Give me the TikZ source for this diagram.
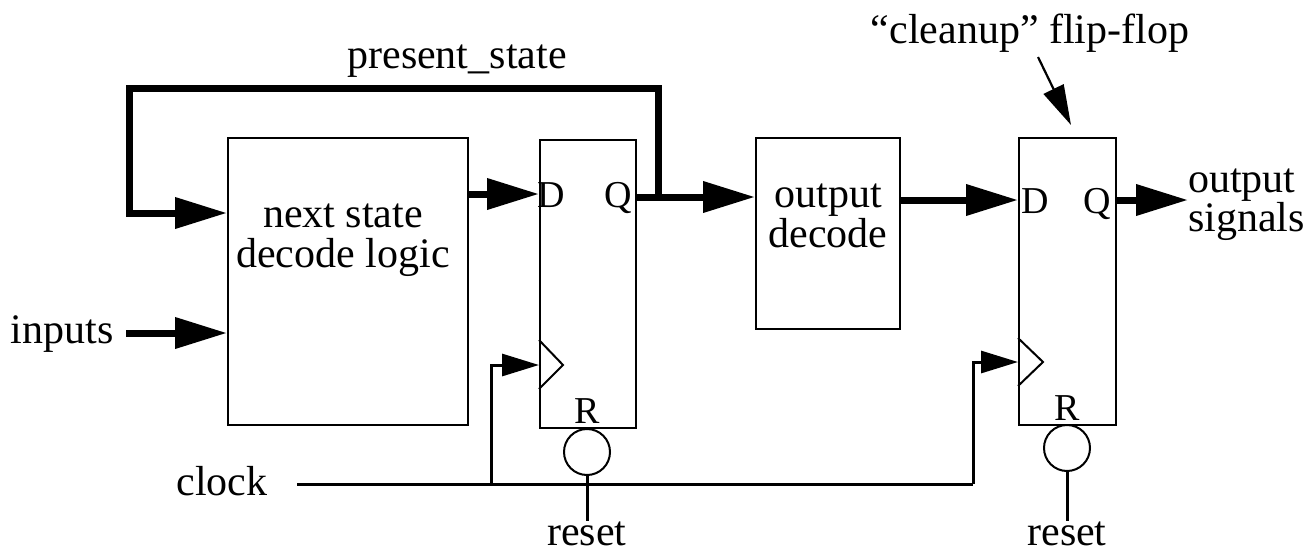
\documentclass[tikz,border=0pt]{standalone}
\usepackage{fontspec}
\setmainfont{Liberation Serif}
\usetikzlibrary{arrows.meta}
\begin{document}
\begin{tikzpicture}[x=1pt,y=-1pt,
  lbl/.style={font=\fontsize{42}{40}\selectfont, inner sep=0pt},
  pin/.style={font=\fontsize{38}{40}\selectfont, inner sep=0pt, anchor=base},
  box/.style={draw, line width=2pt, inner sep=0pt, anchor=north west},
  bus/.style={line width=7pt, line join=miter, -{Triangle[length=52pt,width=30pt]}},
  clkarrow/.style={line width=3pt, -{Triangle[length=37pt,width=22pt]}},
  clkline/.style={line width=3pt},
  thinline/.style={line width=2pt},
  bubble/.style={draw, circle, line width=2pt, minimum size=46pt, inner sep=0pt},
  pointer/.style={line width=2.2pt, -{Triangle[length=40pt,width=22pt]}}
]
\useasboundingbox (0,0) rectangle (1315,552);
\fill[white] (0,0) rectangle (1315,552);

% boxes
\node[box, minimum width=240pt, minimum height=287pt] (ns) at (227,137) {};
\node[box, minimum width=96pt, minimum height=288pt] (ff1) at (539,139) {};
\node[box, minimum width=144pt, minimum height=191pt] (od) at (755,137) {};
\node[box, minimum width=97pt, minimum height=287pt] (ff2) at (1018,137) {};

% box texts
\node[lbl, align=center] (nst) at (343,240.5) {next state\\decode logic};
\node[lbl, align=center] (odt) at (828,216) {output\\decode};

% pins
\node[pin] (D1) at (551,207) {D};
\node[pin] (Q1) at (618,207) {Q};
\node[pin] (R1) at (587,423) {R};
\node[pin] (D2) at (1035,213) {D};
\node[pin] (Q2) at (1097,213) {Q};
\node[pin] (R2) at (1067,420) {R};

% clock triangles
\draw[thinline] (539,340) -- (563,365) -- (539,389);
\draw[thinline] (1018,338) -- (1043,362) -- (1018,386);

% labels
\node[lbl, anchor=base] (ps) at (457,68) {present\_state};
\node[lbl, anchor=base] (cl) at (1030,43) {“cleanup” flip-flop};
\node[lbl, anchor=base] (inp) at (62,343) {inputs};
\node[lbl, anchor=base] (clk) at (222,495) {clock};
\node[lbl, align=left, anchor=west, font=\fontsize{42}{37}\selectfont] (os) at (1188,204.5) {output\\signals};

% coordinates
\coordinate (y194) at (0,194);
\coordinate (y197) at (0,197);
\coordinate (y200) at (0,200);
\coordinate (j) at (658,197);
\coordinate (fbl) at (129,88);
\coordinate (y213) at (0,213);
\coordinate (inA) at (126,333);
\coordinate (c0) at (297,484);
\coordinate (b1) at (491,484);
\coordinate (b2) at (973,484);
\coordinate (ck1) at (0,365);
\coordinate (ck2) at (0,362);
\coordinate (ca) at (1038,57);
\coordinate (cb) at (1071,125);

% buses
\draw[bus] (ns.east |- y194) -- (ff1.west |- y194);
\draw[bus] (ff1.east |- y197) -- (od.west |- y197);
\draw[bus] (j) |- (fbl) |- (ns.west |- y213);
\draw[bus] (inA) -- (ns.west |- inA);
\draw[bus] (od.east |- y200) -- (ff2.west |- y200);
\draw[bus] (ff2.east |- y200) -- (os.west |- y200);

% clock
\draw[clkline] (c0) -- (b2);
\draw[clkarrow] (b1) |- (ff1.west |- ck1);
\draw[clkarrow] (b2) |- (ff2.west |- ck2);

% reset
\node[bubble] (r1) at (587,452) {};
\node[bubble] (r2) at (1067,448) {};
\node[lbl, anchor=base] (rs1) at (587,545) {reset};
\node[lbl, anchor=base] (rs2) at (1067,545) {reset};
\draw[clkline] (r1.south) -- (r1.south |- 0,521);
\draw[clkline] (r2.south) -- (r2.south |- 0,521);

% cleanup pointer
\draw[pointer] (ca) -- (cb);
\end{tikzpicture}
\end{document}
